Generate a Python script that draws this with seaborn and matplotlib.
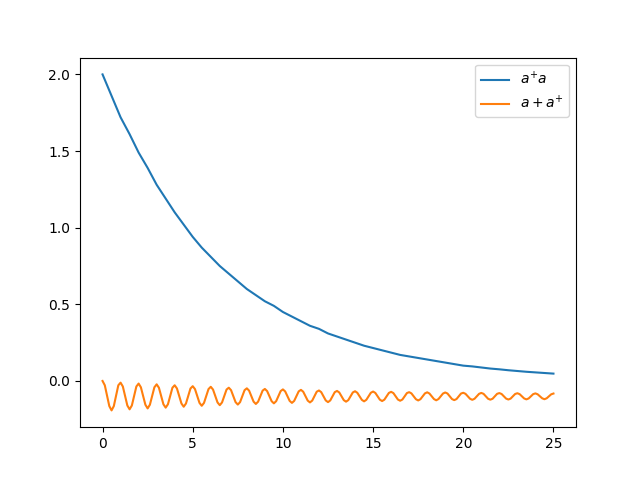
import numpy as np
import matplotlib
matplotlib.use("Agg")
import matplotlib.pyplot as plt
import seaborn as sns

# Blue series: <a^+ a>, sampled every 0.5 time units
t_blue = np.linspace(0, 25, 51)
n_blue = [2.00, 1.86, 1.72, 1.61, 1.49, 1.39, 1.28, 1.19, 1.10, 1.02,
          0.94, 0.87, 0.81, 0.75, 0.70, 0.65, 0.60, 0.56, 0.52, 0.49,
          0.45, 0.42, 0.39, 0.36, 0.34, 0.31, 0.29, 0.27, 0.25, 0.23,
          0.215, 0.20, 0.185, 0.17, 0.16, 0.15, 0.14, 0.13, 0.12, 0.11,
          0.10, 0.095, 0.088, 0.081, 0.076, 0.070, 0.065, 0.060, 0.056, 0.052,
          0.048]

# Orange series: <a + a^+>, sampled every 0.125 time units
t_orange = np.linspace(0, 25, 201)
x_orange = [
    0.000, -0.028, -0.096, -0.164, -0.192, -0.164, -0.096, -0.028,
    -0.011, -0.036, -0.098, -0.160, -0.185, -0.160, -0.098, -0.036,
    -0.017, -0.041, -0.098, -0.155, -0.179, -0.155, -0.098, -0.041,
    -0.022, -0.044, -0.098, -0.152, -0.174, -0.152, -0.098, -0.044,
    -0.028, -0.049, -0.098, -0.147, -0.168, -0.147, -0.098, -0.049,
    -0.034, -0.053, -0.098, -0.143, -0.162, -0.143, -0.098, -0.053,
    -0.038, -0.056, -0.098, -0.140, -0.158, -0.140, -0.098, -0.056,
    -0.044, -0.060, -0.099, -0.138, -0.154, -0.138, -0.099, -0.060,
    -0.048, -0.063, -0.099, -0.135, -0.150, -0.135, -0.099, -0.063,
    -0.052, -0.066, -0.099, -0.132, -0.146, -0.132, -0.099, -0.066,
    -0.055, -0.068, -0.099, -0.130, -0.143, -0.130, -0.099, -0.068,
    -0.058, -0.070, -0.099, -0.128, -0.140, -0.128, -0.099, -0.070,
    -0.062, -0.073, -0.100, -0.127, -0.138, -0.127, -0.100, -0.073,
    -0.065, -0.075, -0.100, -0.125, -0.135, -0.125, -0.100, -0.075,
    -0.067, -0.077, -0.100, -0.123, -0.133, -0.123, -0.100, -0.077,
    -0.069, -0.078, -0.100, -0.122, -0.131, -0.122, -0.100, -0.078,
    -0.071, -0.079, -0.100, -0.121, -0.129, -0.121, -0.100, -0.079,
    -0.073, -0.081, -0.100, -0.119, -0.127, -0.119, -0.100, -0.081,
    -0.074, -0.082, -0.100, -0.118, -0.126, -0.118, -0.100, -0.082,
    -0.075, -0.082, -0.100, -0.118, -0.125, -0.118, -0.100, -0.082,
    -0.077, -0.084, -0.100, -0.116, -0.123, -0.116, -0.100, -0.084,
    -0.078, -0.084, -0.100, -0.116, -0.122, -0.116, -0.100, -0.084,
    -0.079, -0.085, -0.100, -0.115, -0.121, -0.115, -0.100, -0.085,
    -0.080, -0.086, -0.100, -0.114, -0.120, -0.114, -0.100, -0.086,
    -0.081, -0.087, -0.100, -0.113, -0.119, -0.113, -0.100, -0.087,
    -0.082,
]

labels = [r"$a^{+}a$", r"$a+a^{+}$"]

fig, ax = plt.subplots(figsize=(6.4, 4.8), dpi=100)
sns.lineplot(x=t_blue, y=n_blue, ax=ax, color="#1f77b4", label=labels[0])
sns.lineplot(x=t_orange, y=x_orange, ax=ax, color="#ff7f0e", label=labels[1])
ax.legend(loc="upper right")
fig.savefig("out.png", dpi=100)
